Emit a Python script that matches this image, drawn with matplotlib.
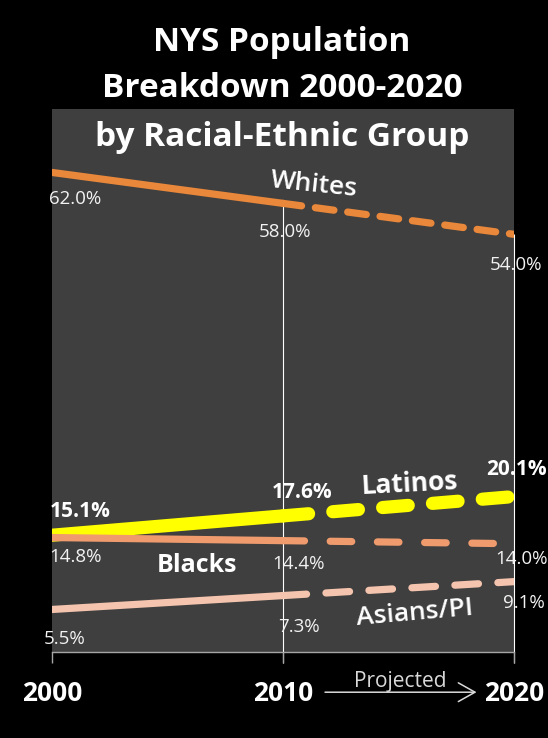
import matplotlib.pyplot as plt

plt.rcParams['font.family'] = ['Open Sans', 'DejaVu Sans']
plt.rcParams['lines.scale_dashes'] = False

# data (percent of NYS population)
years = [2000, 2010, 2020]
year_labels = ['2000', '2010', '2020']
whites = [62.0, 58.0, 54.0]
latinos = [15.1, 17.6, 20.1]
blacks = [14.8, 14.4, 14.0]
asians = [5.5, 7.3, 9.1]

series = [
    # name, values, color, linewidth, dash pattern (pt), label offsets (px right, px down)
    ('Whites', whites, '#e9873a', 5.2, (13.5, 10.0), [(23, 27), (2, 29), (2, 31)]),
    ('Latinos', latinos, '#ffff00', 9.5, (18.5, 17.5), [(28, -24), (19, -23), (3, -27)]),
    ('Blacks', blacks, '#ef9b6e', 5.2, (15.5, 18.5), [(24, 19), (16, 23), (8, 15)]),
    ('Asians/PI', asians, '#f5c4ae', 5.2, (17.0, 14.0), [(13, 30), (16, 31), (10, 21)]),
]

fig = plt.figure(figsize=(5.48, 7.38), dpi=100, facecolor='black')
ax = fig.add_axes([0.0949, 0.1165, 0.843, 0.7358])
ax.set_facecolor('#3f3f3f')
ax.set_xlim(2000, 2020)
ax.set_ylim(0, 70.2)

for side in ['left', 'right', 'top']:
    ax.spines[side].set_visible(False)
ax.spines['bottom'].set_color('#a6a6a6')
ax.spines['bottom'].set_linewidth(1)

ax.set_yticks([])
ax.set_xticks(years)
ax.set_xticklabels(year_labels, fontsize=19, fontweight='bold', color='white')
ax.tick_params(axis='x', length=8, width=1, color='#a6a6a6', pad=12)

# drop lines from the Whites points
ax.vlines(years[1:], -1.4, whites[1:], colors='white', lw=0.8, clip_on=False, zorder=1.5)

for name, vals, col, lw, dash, offs in series:
    # actual 2000-2010 solid, projected 2010-2020 dashed
    ax.plot(years[:2], vals[:2], color=col, lw=lw, solid_capstyle='round', zorder=3)
    ax.plot(years[1:], vals[1:], color=col, lw=lw, dashes=dash,
            dash_capstyle='round', zorder=3)
    for yr, v, (dx, dy) in zip(years, vals, offs):
        if name == 'Latinos':
            ax.annotate(f'{v:.1f}%', xy=(yr, v), xytext=(dx * 0.72, -dy * 0.72),
                        textcoords='offset points', ha='center', va='center',
                        fontsize=15, fontweight='bold', color='white',
                        annotation_clip=False, zorder=4)
        else:
            ax.annotate(f'{v:.1f}%', xy=(yr, v), xytext=(dx * 0.72, -dy * 0.72),
                        textcoords='offset points', ha='center', va='center',
                        fontsize=13.5, color='#f2f2f2', annotation_clip=False, zorder=4)

# group names
ax.text(2011.34, 60.4, 'Whites', fontsize=19, fontweight='semibold', color='white',
        rotation=-6, ha='center', va='center', zorder=4)
ax.text(2015.5, 21.7, 'Latinos', fontsize=19, fontweight='bold', color='white',
        rotation=3, ha='center', va='center', zorder=4)
ax.text(2006.28, 11.25, 'Blacks', fontsize=18, fontweight='bold', color='white',
        ha='center', va='center', zorder=4)
ax.text(2015.7, 5.0, 'Asians/PI', fontsize=19, fontweight='semibold', color='white',
        rotation=5, ha='center', va='center', zorder=4)

# projected arrow under the axis
ax.annotate('', xy=(2018.5, -0.074), xytext=(2011.7, -0.074),
            xycoords=('data', 'axes fraction'), textcoords=('data', 'axes fraction'),
            arrowprops=dict(arrowstyle='->,head_length=0.8,head_width=0.45',
                            color='#d9d9d9', lw=1.1, mutation_scale=15))
ax.text(2015.06, -0.054, 'Projected', transform=ax.get_xaxis_transform(),
        fontsize=15, color='#d9d9d9', ha='center', va='center')

# title
title_lines = ['NYS Population', 'Breakdown 2000-2020', 'by Racial-Ethnic Group']
for line, base in zip(title_lines, [51, 97, 146]):
    fig.text(282 / 548, 1 - base / 738, line, fontsize=24, fontweight='bold',
             color='white', ha='center', va='baseline')

fig.savefig('out.png', dpi=100, facecolor='black')
